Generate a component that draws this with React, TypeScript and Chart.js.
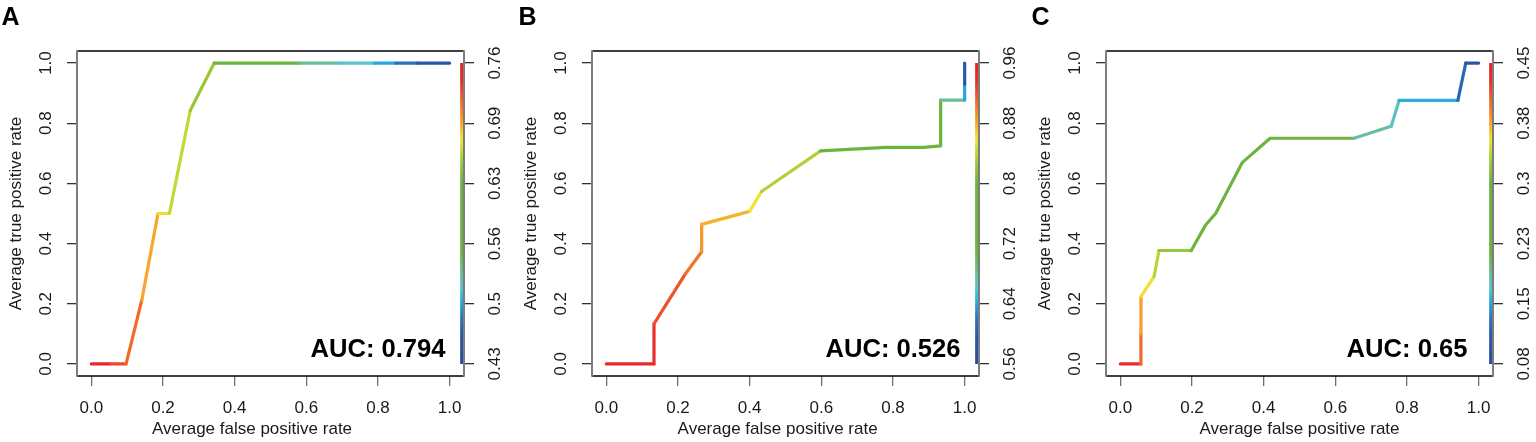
import React, { useEffect, useRef } from "react";
import { Chart, registerables } from "chart.js";

Chart.register(...registerables);

// ---------- data ----------
const axisTickValues = [0, 0.2, 0.4, 0.6, 0.8, 1.0];
const axisTickLabels = ["0.0", "0.2", "0.4", "0.6", "0.8", "1.0"];
const xAxisTitle = "Average false positive rate";
const yAxisTitle = "Average true positive rate";

const panelLetters = ["A", "B", "C"];
const aucLabels = ["AUC: 0.794", "AUC: 0.526", "AUC: 0.65"];

// Panel A
const fprA = [0, 0.053, 0.097, 0.141, 0.186, 0.218, 0.276, 0.343, 0.45, 0.58, 0.69, 0.79, 0.85, 0.91, 1.0];
const tprA = [0, 0, 0, 0.213, 0.5, 0.5, 0.842, 1, 1, 1, 1, 1, 1, 1, 1];
const cutoffA = [0.753, 0.73, 0.717, 0.694, 0.679, 0.664, 0.649, 0.621, 0.579, 0.529, 0.513, 0.496, 0.476, 0.453, 0.43];
const cutoffRangeA = [0.43, 0.76];
const cutoffTicksA = ["0.43", "0.5", "0.56", "0.63", "0.69", "0.76"];

// Panel B
const fprB = [0, 0.133, 0.133, 0.221, 0.266, 0.266, 0.4, 0.433, 0.598, 0.78, 0.886, 0.933, 0.933, 1.0, 1.0, 1.0];
const tprB = [0, 0, 0.133, 0.3, 0.373, 0.464, 0.507, 0.573, 0.708, 0.72, 0.72, 0.725, 0.877, 0.877, 0.93, 1.0];
const cutoffB = [0.948, 0.94, 0.92, 0.904, 0.888, 0.876, 0.86, 0.836, 0.8, 0.768, 0.74, 0.72, 0.68, 0.64, 0.592, 0.56];
const cutoffRangeB = [0.56, 0.96];
const cutoffTicksB = ["0.56", "0.64", "0.72", "0.8", "0.88", "0.96"];

// Panel C
const fprC = [0, 0.0575, 0.0575, 0.0575, 0.094, 0.108, 0.198, 0.238, 0.266, 0.34, 0.418, 0.652, 0.756, 0.778, 0.942, 0.964, 1.0];
const tprC = [0, 0, 0.1, 0.224, 0.29, 0.377, 0.377, 0.462, 0.5, 0.669, 0.75, 0.75, 0.79, 0.876, 0.876, 1.0, 1.0];
const cutoffC = [0.432, 0.402, 0.38, 0.359, 0.339, 0.324, 0.302, 0.287, 0.272, 0.254, 0.217, 0.187, 0.176, 0.158, 0.124, 0.102, 0.08];
const cutoffRangeC = [0.08, 0.45];
const cutoffTicksC = ["0.08", "0.15", "0.23", "0.3", "0.38", "0.45"];

// ---------- style ----------
const FONT = '"Liberation Sans", Arial, Helvetica, sans-serif';
const COLORBAR_X = 1.0334;
const AUC_POS = { x: 0.8, y: 0.024 };

const PALETTE: [number, string][] = [
  [0.0, "#2A4A9D"],
  [0.1, "#2B5BA8"],
  [0.16, "#2D7CC0"],
  [0.205, "#28AAE1"],
  [0.25, "#58C3CE"],
  [0.3, "#68BE96"],
  [0.37, "#6DB33F"],
  [0.6, "#6DB33F"],
  [0.68, "#A6CE39"],
  [0.75, "#EFE42F"],
  [0.8, "#F8A62B"],
  [0.87, "#F26A2B"],
  [0.94, "#EA2F2A"],
  [1.0, "#E6222A"],
];

function hexRgb(h: string): number[] {
  const n = parseInt(h.slice(1), 16);
  return [(n >> 16) & 255, (n >> 8) & 255, n & 255];
}

function paletteColor(t: number): string {
  const v = Math.max(0, Math.min(1, t));
  for (let i = 0; i < PALETTE.length - 1; i++) {
    const [t0, c0] = PALETTE[i];
    const [t1, c1] = PALETTE[i + 1];
    if (v >= t0 && v <= t1) {
      const f = t1 === t0 ? 0 : (v - t0) / (t1 - t0);
      const a = hexRgb(c0);
      const b = hexRgb(c1);
      const r = a.map((x, k) => Math.round(x + (b[k] - x) * f));
      return `rgb(${r[0]},${r[1]},${r[2]})`;
    }
  }
  return PALETTE[PALETTE.length - 1][1];
}

type Panel = {
  letter: string;
  auc: string;
  fpr: number[];
  tpr: number[];
  cutoff: number[];
  range: number[];
  rightTicks: string[];
  left: number;
  titleCenter: number;
  letterX: number;
};

const PANELS: Panel[] = [
  { letter: panelLetters[0], auc: aucLabels[0], fpr: fprA, tpr: tprA, cutoff: cutoffA, range: cutoffRangeA, rightTicks: cutoffTicksA, left: 0, titleCenter: 0.4485, letterX: 1.5 },
  { letter: panelLetters[1], auc: aucLabels[1], fpr: fprB, tpr: tprB, cutoff: cutoffB, range: cutoffRangeB, rightTicks: cutoffTicksB, left: 515, titleCenter: 0.478, letterX: 3.5 },
  { letter: panelLetters[2], auc: aucLabels[2], fpr: fprC, tpr: tprC, cutoff: cutoffC, range: cutoffRangeC, rightTicks: cutoffTicksC, left: 1029, titleCenter: 0.5, letterX: 2.5 },
];

const CANVAS_W = 505;
const CANVAS_H = 442;

function RocPanel({ p }: { p: Panel }) {
  const ref = useRef<HTMLCanvasElement | null>(null);

  useEffect(() => {
    if (!ref.current) return;
    const norm = (c: number) => (c - p.range[0]) / (p.range[1] - p.range[0]);

    const textPlugin = {
      id: "rocText",
      afterDatasetsDraw(chart: any) {
        const { ctx, chartArea: ca, scales } = chart;
        const xs = scales.x;
        const ys = scales.y;
        const ys2 = scales.y2;
        ctx.save();
        // box
        ctx.lineCap = "butt";
        ctx.strokeStyle = "#000";
        ctx.lineWidth = 1.3;
        ctx.beginPath();
        ctx.moveTo(ca.left, ca.top);
        ctx.lineTo(ca.right, ca.top);
        ctx.moveTo(ca.left, ca.bottom);
        ctx.lineTo(ca.right, ca.bottom);
        ctx.stroke();
        ctx.strokeStyle = "#7d7d7d";
        ctx.lineWidth = 2;
        ctx.beginPath();
        ctx.moveTo(ca.left, ca.top - 0.65);
        ctx.lineTo(ca.left, ca.bottom + 0.65);
        ctx.moveTo(ca.right, ca.top - 0.65);
        ctx.lineTo(ca.right, ca.bottom + 0.65);
        ctx.stroke();

        ctx.fillStyle = "#1a1a1a";
        ctx.font = `17px ${FONT}`;
        ctx.textAlign = "center";
        ctx.textBaseline = "alphabetic";
        xs.ticks.forEach((t: any, i: number) => {
          ctx.fillText(axisTickLabels[i], xs.getPixelForValue(t.value), ca.bottom + 37.3);
        });
        ctx.fillText(xAxisTitle, xs.getPixelForValue(p.titleCenter), ca.bottom + 58.3);

        ys.ticks.forEach((t: any, i: number) => {
          const py = ys.getPixelForValue(t.value);
          ctx.save();
          ctx.translate(ca.left - 31, py);
          ctx.rotate(-Math.PI / 2);
          ctx.textBaseline = "middle";
          ctx.fillText(axisTickLabels[i], 0, 0);
          ctx.restore();
        });
        ys2.ticks.forEach((t: any, i: number) => {
          const py = ys2.getPixelForValue(t.value);
          ctx.save();
          ctx.translate(ca.right + 31.5, py);
          ctx.rotate(-Math.PI / 2);
          ctx.textBaseline = "middle";
          ctx.fillText(p.rightTicks[i], 0, 0);
          ctx.restore();
        });

        ctx.save();
        ctx.translate(ca.left - 56.5, ys.getPixelForValue(0.5));
        ctx.rotate(-Math.PI / 2);
        ctx.textBaseline = "alphabetic";
        ctx.fillText(yAxisTitle, 0, 0);
        ctx.restore();

        ctx.fillStyle = "#000";
        ctx.font = `bold 25.6px ${FONT}`;
        ctx.textAlign = "center";
        ctx.fillText(p.auc, xs.getPixelForValue(AUC_POS.x), ys.getPixelForValue(AUC_POS.y));

        ctx.font = `bold 25px ${FONT}`;
        ctx.textAlign = "left";
        ctx.fillText(p.letter, p.letterX, 25);
        ctx.restore();
      },
    };

    const setTicks = (s: any) => {
      s.ticks = axisTickValues.map((v) => ({ value: v }));
    };

    const chart = new Chart(ref.current, {
      type: "line",
      data: {
        datasets: [
          {
            data: p.fpr.map((x, i) => ({ x, y: p.tpr[i] })),
            borderWidth: 3.2,
            pointRadius: 0,
            borderCapStyle: "round",
            borderJoinStyle: "round",
            fill: false,
            tension: 0,
            borderColor: paletteColor(norm(p.cutoff[0])),
            segment: {
              borderColor: (ctx: any) => paletteColor(norm(p.cutoff[ctx.p0DataIndex])),
            },
            yAxisID: "y",
          },
          {
            data: [
              { x: COLORBAR_X, y: 0 },
              { x: COLORBAR_X, y: 1 },
            ],
            borderWidth: 3,
            pointRadius: 0,
            borderCapStyle: "butt",
            fill: false,
            yAxisID: "y",
            borderColor: (ctx: any) => {
              const chart = ctx.chart;
              const ys = chart.scales && chart.scales.y;
              if (!chart.chartArea || !ys) return "#6DB33F";
              const g = chart.ctx.createLinearGradient(0, ys.getPixelForValue(0), 0, ys.getPixelForValue(1));
              PALETTE.forEach(([t, c]) => g.addColorStop(t, c));
              return g;
            },
          },
        ],
      } as any,
      options: {
        animation: false,
        responsive: false,
        maintainAspectRatio: false,
        events: [],
        layout: { padding: { top: 51, left: 0, right: 0, bottom: 0 } },
        plugins: {
          legend: { display: false },
          tooltip: { enabled: false },
          title: { display: false },
        },
        scales: {
          x: {
            type: "linear",
            min: -0.04,
            max: 1.04,
            afterBuildTicks: setTicks,
            afterFit: (s: any) => {
              s.height = 66;
            },
            grid: { display: true, drawOnChartArea: false, drawTicks: true, tickLength: 10, color: "#6e6e6e", lineWidth: 1.3 },
            border: { display: false },
            ticks: { display: false },
          },
          y: {
            type: "linear",
            position: "left",
            min: -0.04,
            max: 1.04,
            afterBuildTicks: setTicks,
            afterFit: (s: any) => {
              s.width = 77;
            },
            grid: { display: true, drawOnChartArea: false, drawTicks: true, tickLength: 10, color: "#333", lineWidth: 1.3 },
            border: { display: false },
            ticks: { display: false },
          },
          y2: {
            type: "linear",
            position: "right",
            min: -0.04,
            max: 1.04,
            afterBuildTicks: setTicks,
            afterFit: (s: any) => {
              s.width = CANVAS_W - 464;
            },
            grid: { display: true, drawOnChartArea: false, drawTicks: true, tickLength: 10, color: "#333", lineWidth: 1.3 },
            border: { display: false },
            ticks: { display: false },
          },
        },
      } as any,
      plugins: [textPlugin],
    });
    return () => chart.destroy();
  }, [p]);

  return (
    <canvas
      ref={ref}
      width={CANVAS_W}
      height={CANVAS_H}
      style={{ position: "absolute", left: p.left, top: 0, width: CANVAS_W, height: CANVAS_H }}
    />
  );
}

export default function App() {
  return (
    <div style={{ position: "absolute", left: 0, top: 0, width: 1536, height: 442, background: "#fff", overflow: "hidden" }}>
      {PANELS.map((p) => (
        <RocPanel key={p.letter} p={p} />
      ))}
    </div>
  );
}
